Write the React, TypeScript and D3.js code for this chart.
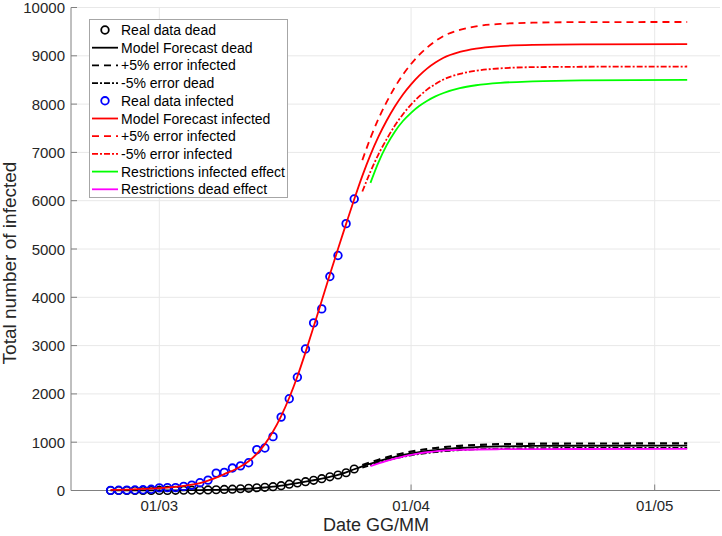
import React from "react";
import * as d3 from "d3";

// ---------- data ----------
const realStart = "2020-02-24"; // daily observations from this date
const realDead = [0, 0, 0, 0, 0, 0, 1, 2, 3, 5, 7, 9, 12, 16, 22, 28, 36, 45, 57, 66, 80, 100, 130, 155, 182, 210, 245, 283, 321, 368, 445];
const realInfected = [3, 5, 8, 10, 15, 25, 55, 60, 60, 85, 110, 160, 215, 360, 375, 465, 510, 575, 845, 880, 1115, 1520, 1900, 2345, 2930, 3470, 3760, 4430, 4865, 5525, 6035];

const modelDates = [
  "2020-02-24", "2020-02-26", "2020-02-28",
  "2020-03-01", "2020-03-02", "2020-03-03", "2020-03-04", "2020-03-05", "2020-03-06", "2020-03-07", "2020-03-08",
  "2020-03-09", "2020-03-10", "2020-03-11", "2020-03-12", "2020-03-13", "2020-03-14", "2020-03-15", "2020-03-16",
  "2020-03-17", "2020-03-18", "2020-03-19", "2020-03-20", "2020-03-21", "2020-03-22", "2020-03-23", "2020-03-24",
  "2020-03-25", "2020-03-26", "2020-03-27", "2020-03-28", "2020-03-29", "2020-03-30", "2020-03-31",
  "2020-04-01", "2020-04-02", "2020-04-03", "2020-04-04", "2020-04-05",
  "2020-04-07", "2020-04-09", "2020-04-12", "2020-04-16", "2020-04-22", "2020-05-05",
];
const modelInfected = [
  12, 20, 32,
  48, 60, 75, 95, 120, 155, 205, 265,
  340, 410, 495, 605, 760, 960, 1220, 1540,
  1920, 2360, 2860, 3390, 3930, 4470, 5000, 5520,
  6030, 6515, 6950, 7330, 7660, 7950, 8200,
  8410, 8590, 8740, 8860, 8960,
  9080, 9150, 9200, 9225, 9235, 9240,
];
const modelDead = [
  1, 1, 2,
  3, 3, 4, 5, 7, 8, 11, 14,
  18, 23, 29, 38, 48, 62, 80, 100,
  125, 152, 182, 212, 245, 282, 322, 375,
  440, 500, 555, 608, 655, 698, 735,
  768, 795, 818, 838, 855,
  880, 898, 913, 922, 927, 928,
];

const forecastDates = [
  "2020-03-26", "2020-03-27", "2020-03-28", "2020-03-29", "2020-03-30", "2020-03-31",
  "2020-04-01", "2020-04-02", "2020-04-03", "2020-04-04", "2020-04-05",
  "2020-04-07", "2020-04-09", "2020-04-12", "2020-04-16", "2020-04-22", "2020-05-05",
];
const infectedPlus5 = [6840, 7300, 7700, 8045, 8350, 8610, 8830, 9020, 9175, 9305, 9410, 9535, 9610, 9660, 9685, 9697, 9700];
const infectedMinus5 = [6190, 6600, 6965, 7275, 7555, 7790, 7990, 8160, 8305, 8415, 8510, 8625, 8690, 8740, 8765, 8773, 8778];
const deadPlus5 = [525, 583, 638, 688, 733, 772, 806, 835, 859, 880, 898, 924, 943, 959, 968, 973, 974];
const deadMinus5 = [475, 527, 578, 622, 663, 698, 730, 755, 777, 796, 812, 836, 853, 867, 876, 881, 882];

const restrictDates = [
  "2020-03-27", "2020-03-28", "2020-03-29", "2020-03-30", "2020-03-31",
  "2020-04-01", "2020-04-02", "2020-04-03", "2020-04-04", "2020-04-05",
  "2020-04-07", "2020-04-09", "2020-04-12", "2020-04-16", "2020-04-22", "2020-05-05",
];
const restrictInfected = [6370, 6800, 7150, 7430, 7650, 7820, 7960, 8070, 8160, 8230, 8330, 8390, 8440, 8470, 8490, 8500];
const restrictDead = [505, 560, 612, 660, 702, 738, 768, 792, 810, 824, 840, 849, 855, 858, 859, 860];

const yTicks = [0, 1000, 2000, 3000, 4000, 5000, 6000, 7000, 8000, 9000, 10000];
const xTickDates = ["2020-03-01", "2020-04-01", "2020-05-01"];
const xDomain = ["2020-02-19T03:00:00Z", "2020-05-09T01:00:00Z"];

const legendItems = [
  { label: "Real data dead", color: "#000000", kind: "circle", dash: "" },
  { label: "Model Forecast dead", color: "#000000", kind: "line", dash: "" },
  { label: "+5% error infected", color: "#000000", kind: "line", dash: "7,5" },
  { label: "-5% error dead", color: "#000000", kind: "line", dash: "6,2,2,2" },
  { label: "Real data infected", color: "#0000ff", kind: "circle", dash: "" },
  { label: "Model Forecast infected", color: "#ff0000", kind: "line", dash: "" },
  { label: "+5% error infected", color: "#ff0000", kind: "line", dash: "7,5" },
  { label: "-5% error infected", color: "#ff0000", kind: "line", dash: "6,2,2,2" },
  { label: "Restrictions infected effect", color: "#00ff00", kind: "line", dash: "" },
  { label: "Restrictions dead effect", color: "#ff00ff", kind: "line", dash: "" },
];

// ---------- layout ----------
const W = 722;
const H = 536;
const left = 71;
const right = 720;
const top = 7.5;
const bottom = 490.5;
const FONT = "'Liberation Sans', Arial, Helvetica, sans-serif";

export default function App() {
  const parse = (s: string) => new Date(s.length > 10 ? s : s + "T00:00:00Z");
  const x = d3.scaleUtc().domain(xDomain.map(parse)).range([left, right]);
  const y = d3.scaleLinear().domain([0, 10000]).range([bottom, top]);

  const line = d3
    .line<[Date, number]>()
    .x((d) => x(d[0]))
    .y((d) => y(d[1]))
    .curve(d3.curveMonotoneX);

  const zip = (dates: string[], vals: number[]) =>
    dates.map((d, i) => [parse(d), vals[i]] as [Date, number]);

  const start = parse(realStart);
  const realPts = (vals: number[]) =>
    vals.map((v, i) => [d3.utcDay.offset(start, i), v] as [Date, number]);

  const fmt = d3.utcFormat("%d/%m");

  const deadReal = realPts(realDead);
  const infReal = realPts(realInfected);

  return (
    <svg
      width={W}
      height={H}
      style={{ position: "absolute", left: 0, top: 0, background: "#fff" }}
      fontFamily={FONT}
    >
      <rect x={0} y={0} width={W} height={H} fill="#fff" />
      {/* grid */}
      <g stroke="#e8e8e8" strokeWidth={1}>
        {yTicks.map((t) => (
          <line key={"gy" + t} x1={left} x2={right} y1={y(t)} y2={y(t)} />
        ))}
        {xTickDates.map((t) => (
          <line key={"gx" + t} x1={x(parse(t))} x2={x(parse(t))} y1={top} y2={bottom} />
        ))}
      </g>

      {/* axes */}
      <g stroke="#808080" strokeWidth={1} fill="none">
        <line x1={left} x2={left} y1={top} y2={bottom} />
        <line x1={left} x2={right} y1={bottom} y2={bottom} />
        {yTicks.map((t) => (
          <line key={"ty" + t} x1={left} x2={left + 6} y1={y(t)} y2={y(t)} />
        ))}
        {xTickDates.map((t) => (
          <line key={"tx" + t} x1={x(parse(t))} x2={x(parse(t))} y1={bottom} y2={bottom - 6} />
        ))}
      </g>
      <g fill="#262626" fontSize={15}>
        {yTicks.map((t) => (
          <text key={"ly" + t} x={left - 6} y={y(t)} textAnchor="end" dominantBaseline="central">
            {t}
          </text>
        ))}
        {xTickDates.map((t) => (
          <text key={"lx" + t} x={x(parse(t))} y={bottom + 20} textAnchor="middle">
            {fmt(parse(t))}
          </text>
        ))}
      </g>
      <text x={376} y={531} textAnchor="middle" fontSize={18} fill="#262626">
        Date GG/MM
      </text>
      <text
        transform={`translate(16,263) rotate(-90)`}
        textAnchor="middle"
        fontSize={19}
        fill="#262626"
      >
        Total number of infected
      </text>

      {/* dead series */}
      <g fill="none" stroke="#000" strokeWidth={1.6}>
        {deadReal.map((p, i) => (
          <circle key={"dc" + i} cx={x(p[0])} cy={y(p[1])} r={3.8} />
        ))}
      </g>
      <path d={line(zip(modelDates, modelDead)) || ""} fill="none" stroke="#000" strokeWidth={1.8} />
      <path d={line(zip(forecastDates, deadPlus5)) || ""} fill="none" stroke="#000" strokeWidth={2.2} strokeDasharray="7,5" />
      <path d={line(zip(forecastDates, deadMinus5)) || ""} fill="none" stroke="#000" strokeWidth={1.8} strokeDasharray="6,2,2,2" />

      {/* infected series */}
      <g fill="none" stroke="#0000ff" strokeWidth={1.8}>
        {infReal.map((p, i) => (
          <circle key={"ic" + i} cx={x(p[0])} cy={y(p[1])} r={3.8} />
        ))}
      </g>
      <path d={line(zip(modelDates, modelInfected)) || ""} fill="none" stroke="#ff0000" strokeWidth={1.8} />
      <path d={line(zip(forecastDates, infectedPlus5)) || ""} fill="none" stroke="#ff0000" strokeWidth={1.8} strokeDasharray="7,5" />
      <path d={line(zip(forecastDates, infectedMinus5)) || ""} fill="none" stroke="#ff0000" strokeWidth={1.8} strokeDasharray="6,2,2,2" />
      <path d={line(zip(restrictDates, restrictInfected)) || ""} fill="none" stroke="#00ff00" strokeWidth={1.8} />
      <path d={line(zip(restrictDates, restrictDead)) || ""} fill="none" stroke="#ff00ff" strokeWidth={1.8} />

      {/* legend */}
      <g>
        <rect x={89.5} y={19.5} width={198} height={178} fill="#fff" stroke="#a6a6a6" strokeWidth={1} />
        {legendItems.map((it, i) => {
          const cy = 30 + i * 17.7;
          return (
            <g key={"lg" + i}>
              {it.kind === "circle" ? (
                <circle cx={105} cy={cy} r={3.8} fill="none" stroke={it.color} strokeWidth={1.8} />
              ) : (
                <line x1={92} x2={118} y1={cy} y2={cy} stroke={it.color} strokeWidth={1.8} strokeDasharray={it.dash || undefined} />
              )}
              <text x={121} y={cy} dominantBaseline="central" fontSize={14} fill="#000">
                {it.label}
              </text>
            </g>
          );
        })}
      </g>
    </svg>
  );
}
